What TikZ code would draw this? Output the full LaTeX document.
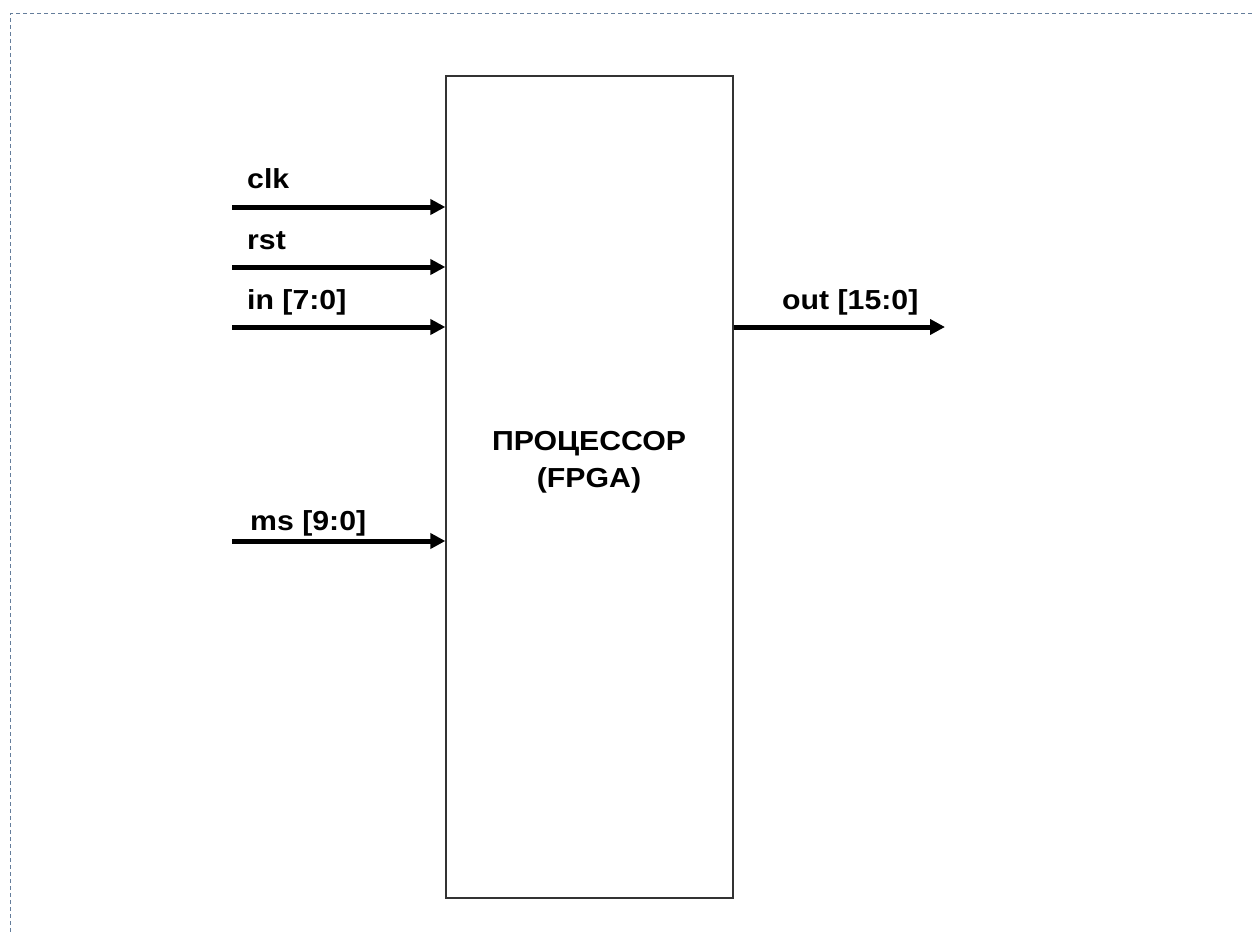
\documentclass[tikz,border=0pt]{standalone}
\usepackage{fontspec}
\setmainfont{Liberation Sans}
\usetikzlibrary{arrows.meta}
\definecolor{bordercol}{RGB}{100,125,155}
\begin{document}
\begin{tikzpicture}[x=1pt,y=-1pt,
  sig/.style={line width=5pt,-{Triangle[length=15pt,width=15pt]}},
  lbl/.style={font=\bfseries\fontsize{27.5}{30}\selectfont,xscale=1.1,anchor=base west,inner sep=0pt},
  frame/.style={draw=black!80,line width=1.3pt,minimum width=287pt,minimum height=822pt,inner sep=0pt},
  border/.style={draw=bordercol,line width=1pt,dash pattern=on 4pt off 3pt}]
\useasboundingbox (0,0) rectangle (1252,934);
\coordinate (tl) at (10,14);
\coordinate (tr) at (1252,14);
\coordinate (bl) at (10,934);
\draw[border] (tr) -- (tl) -- (bl);
\node[frame] (cpu) at (589.5,487) {};
\node[font=\bfseries\fontsize{27.5}{37}\selectfont,xscale=1.1,align=center] (cpuname) at (589,462) {ПРОЦЕССОР\\(FPGA)};
\coordinate (clkin) at (232,207);
\coordinate (rstin) at (232,267);
\coordinate (inin) at (232,327);
\coordinate (msin) at (232,541);
\coordinate (outend) at (945,327);
\draw[sig] (clkin) -- (clkin -| cpu.west);
\draw[sig] (rstin) -- (rstin -| cpu.west);
\draw[sig] (inin) -- (inin -| cpu.west);
\draw[sig] (msin) -- (msin -| cpu.west);
\draw[sig] (outend -| cpu.east) -- (outend);
\node[lbl] (lclk) at (247,188) {clk};
\node[lbl] (lrst) at (247,249) {rst};
\node[lbl] (lin) at (247,309) {in [7:0]};
\node[lbl] (lms) at (250,530) {ms [9:0]};
\node[lbl] (lout) at (782,309) {out [15:0]};
\end{tikzpicture}
\end{document}
